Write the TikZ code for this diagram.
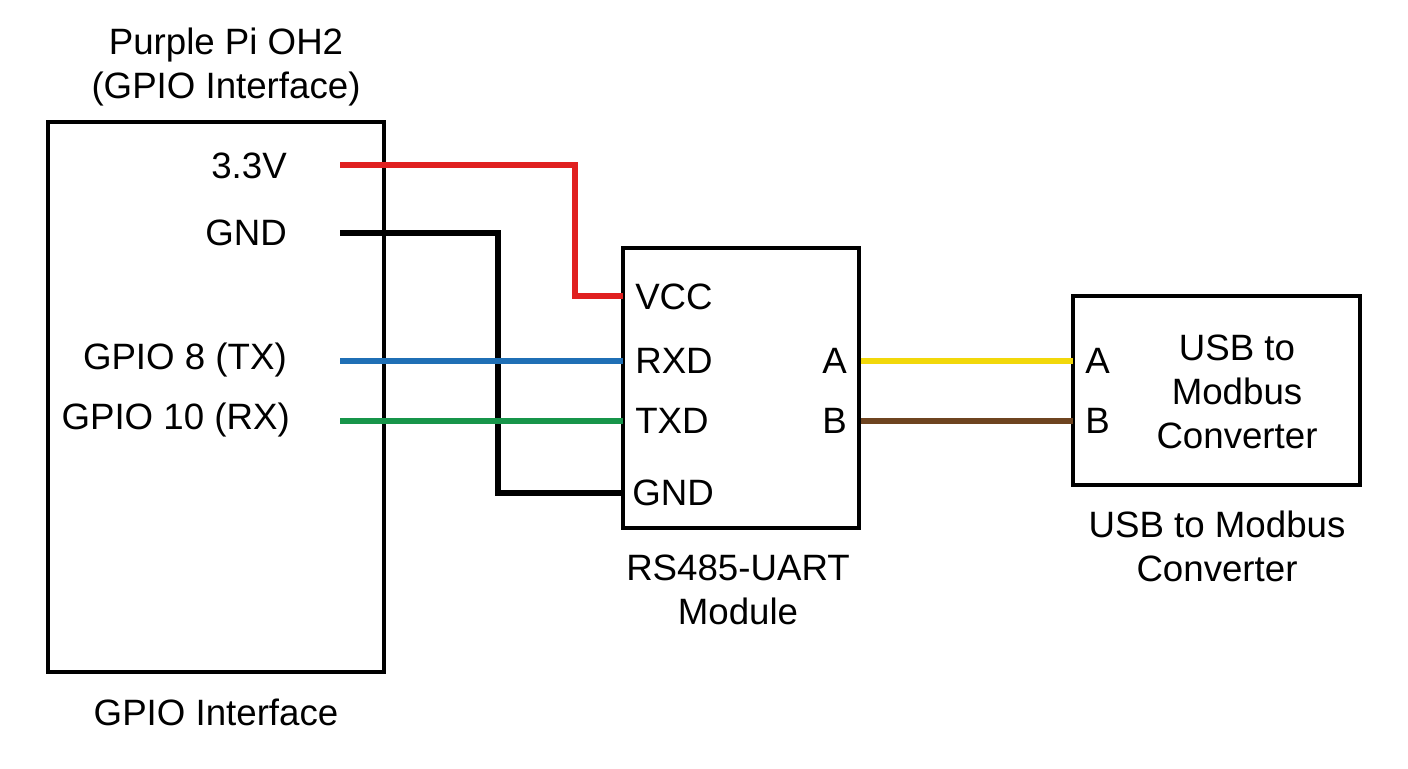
\documentclass[tikz,border=0pt]{standalone}
\usepackage{fontspec}
\setmainfont{Liberation Sans}
\begin{document}
\begin{tikzpicture}[x=0.75pt,y=-0.75pt,
  box/.style={draw,line width=2.3pt},
  lbl/.style={font=\fontsize{27.5}{33}\selectfont,inner sep=0pt},
  ttl/.style={font=\fontsize{27.5}{33}\selectfont,align=center,inner sep=0pt},
  wire/.style={line width=3.8pt}]
\useasboundingbox (0,0) rectangle (1408,768);
\definecolor{wred}{HTML}{E02020}
\definecolor{wblue}{HTML}{1F6FB5}
\definecolor{wgreen}{HTML}{17954A}
\definecolor{wyellow}{HTML}{F2D80A}
\definecolor{wbrown}{HTML}{6E4420}
\draw[box] (48,122) rectangle (384,672);
\draw[box] (623,248) rectangle (859,528);
\draw[box] (1073,296) rectangle (1360,485);
\node[ttl] (t1) at (226,67) {Purple Pi OH2\\(GPIO Interface)};
\node[ttl] (t2) at (216,712) {GPIO Interface};
\node[ttl] (t3) at (738,590) {RS485-UART\\Module};
\node[ttl] (t4) at (1217,546) {USB to Modbus\\Converter};
\node[ttl] (t5) at (1237,392) {USB to\\Modbus\\Converter};
\node[lbl,anchor=east] (p33) at (287,166) {3.3V};
\node[lbl,anchor=east] (pgnd) at (287,233) {GND};
\node[lbl,anchor=east] (ptx) at (287,360) {GPIO 8 (TX)};
\node[lbl,anchor=east] (prx) at (290,420) {GPIO 10 (RX)};
\node[lbl,anchor=west] (vcc) at (635,297) {VCC};
\node[lbl,anchor=west] (rxd) at (635,361) {RXD};
\node[lbl,anchor=west] (txd) at (635,421) {TXD};
\node[lbl,anchor=west] (gnd2) at (632,493) {GND};
\node[lbl,anchor=east] (a1) at (847,361) {A};
\node[lbl,anchor=east] (b1) at (847,421) {B};
\node[lbl,anchor=west] (a2) at (1085,361) {A};
\node[lbl,anchor=west] (b2) at (1085,421) {B};
\coordinate (s1) at (340,165); \coordinate (e1) at (623,296);
\coordinate (s2) at (340,233); \coordinate (e2) at (623,493);
\coordinate (s3) at (340,361); \coordinate (e3) at (623,361);
\coordinate (s4) at (340,421); \coordinate (e4) at (623,421);
\coordinate (s5) at (861,361); \coordinate (e5) at (1073,361);
\coordinate (s6) at (861,421); \coordinate (e6) at (1073,421);
\draw[wire,wred] (s1) -- (575,165) -- (575,296) -- (e1);
\draw[wire,black] (s2) -- (498,233) -- (498,493) -- (e2);
\draw[wire,wblue] (s3) -- (e3);
\draw[wire,wgreen] (s4) -- (e4);
\draw[wire,wyellow] (s5) -- (e5);
\draw[wire,wbrown] (s6) -- (e6);
\end{tikzpicture}
\end{document}
